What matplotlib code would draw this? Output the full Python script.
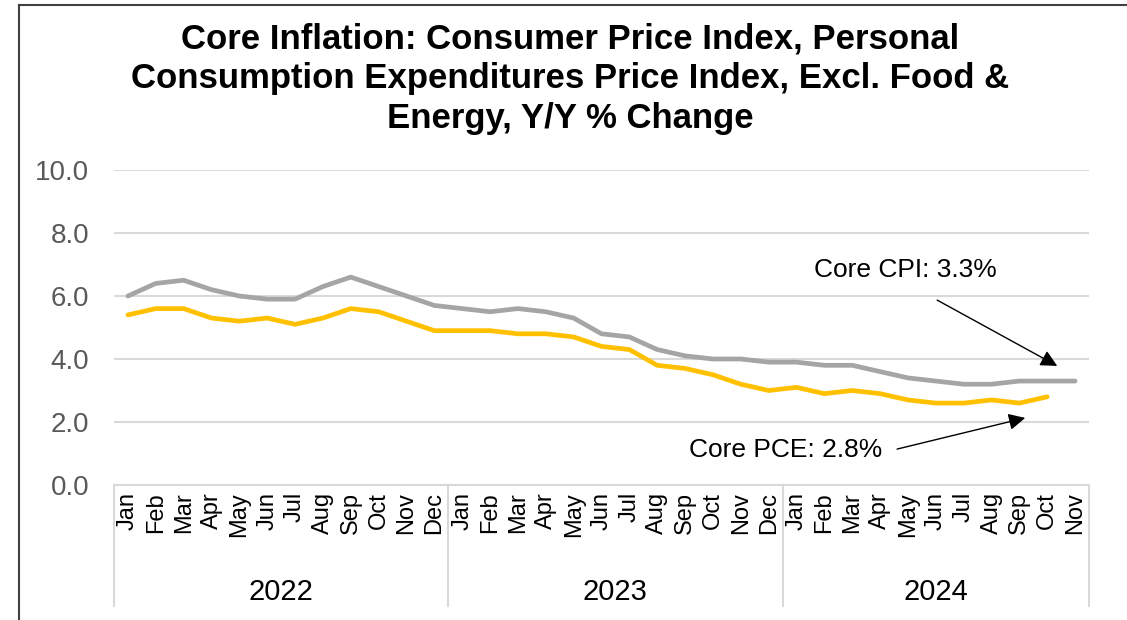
import matplotlib
matplotlib.use('Agg')
import matplotlib.pyplot as plt
import numpy as np

# data
months = ['Jan', 'Feb', 'Mar', 'Apr', 'May', 'Jun', 'Jul', 'Aug', 'Sep', 'Oct', 'Nov', 'Dec']
years = ['2022', '2023', '2024']
month_labels = months * 2 + months[:11]

core_cpi = [6.0, 6.4, 6.5, 6.2, 6.0, 5.9, 5.9, 6.3, 6.6, 6.3, 6.0, 5.7,
            5.6, 5.5, 5.6, 5.5, 5.3, 4.8, 4.7, 4.3, 4.1, 4.0, 4.0, 3.9,
            3.9, 3.8, 3.8, 3.6, 3.4, 3.3, 3.2, 3.2, 3.3, 3.3, 3.3]
core_pce = [5.4, 5.6, 5.6, 5.3, 5.2, 5.3, 5.1, 5.3, 5.6, 5.5, 5.2, 4.9,
            4.9, 4.9, 4.8, 4.8, 4.7, 4.4, 4.3, 3.8, 3.7, 3.5, 3.2, 3.0,
            3.1, 2.9, 3.0, 2.9, 2.7, 2.6, 2.6, 2.7, 2.6, 2.8]

yticks = [0.0, 2.0, 4.0, 6.0, 8.0, 10.0]

gray = '#A5A5A5'
gold = '#FFC000'
font = 'Liberation Sans'

fig = plt.figure(figsize=(11.27, 6.2), dpi=100)
ax = fig.add_axes([114 / 1127, 1 - 485 / 620, 975 / 1127, 315 / 620])

x_cpi = np.arange(len(core_cpi))
x_pce = np.arange(len(core_pce))
ax.plot(x_cpi, core_cpi, color=gray, lw=3.4, solid_capstyle='round', zorder=3)
ax.plot(x_pce, core_pce, color=gold, lw=3.4, solid_capstyle='round', zorder=3)

n = len(month_labels)
ax.set_xlim(-0.5, n - 0.5)
ax.set_ylim(0, 10)
ax.set_yticks(yticks)
ax.set_yticklabels([f'{v:.1f}' for v in yticks], fontsize=20, color='#595959', family=font)
ax.tick_params(axis='y', length=0, pad=18)
ax.set_xticks([])
ax.grid(axis='y', color='#D9D9D9', lw=1.5)
ax.set_axisbelow(True)
for s in ['left', 'right', 'top']:
    ax.spines[s].set_visible(False)
ax.spines['bottom'].set_color('#D9D9D9')
ax.spines['bottom'].set_linewidth(1.5)

# multi-level category axis
trans = ax.get_xaxis_transform()
for i, lab in enumerate(month_labels):
    ax.text(i, -0.022, lab, rotation=90, ha='center', va='top', fontsize=17,
            family=font, transform=trans)
bounds = [-0.5, 11.5, 23.5, n - 0.5]
for b in bounds:
    ax.plot([b, b], [0, -0.385], color='#D9D9D9', lw=1.5, transform=trans, clip_on=False)
for k, yr in enumerate(years):
    ax.text((bounds[k] + bounds[k + 1]) / 2, -0.34, yr, ha='center', va='center',
            fontsize=21, family=font, transform=trans)

# annotations
ax.text(27.9, 6.83, 'Core CPI: 3.3%', ha='center', va='center', fontsize=19, family=font)
ax.text(23.6, 1.11, 'Core PCE: 2.8%', ha='center', va='center', fontsize=19, family=font)
arrow = dict(arrowstyle='-|>', color='black', lw=1, mutation_scale=25, shrinkA=0, shrinkB=0)
ax.annotate('', xy=(33.36, 3.78), xytext=(29.05, 5.87), arrowprops=arrow)
ax.annotate('', xy=(32.21, 2.13), xytext=(27.61, 1.14), arrowprops=arrow)

fig.text(0.506, 0.873, 'Core Inflation: Consumer Price Index, Personal\n'
         'Consumption Expenditures Price Index, Excl. Food &\n'
         'Energy, Y/Y % Change', ha='center', va='center', fontsize=25,
         fontweight='bold', family=font, linespacing=1.25)

# frame
fig.add_artist(plt.Line2D([19 / 1127, 19 / 1127], [0, 1 - 5 / 620], color='#404040', lw=1.5))
fig.add_artist(plt.Line2D([19 / 1127, 1], [1 - 5 / 620, 1 - 5 / 620], color='#404040', lw=1.5))

fig.savefig('out.png', dpi=100)
